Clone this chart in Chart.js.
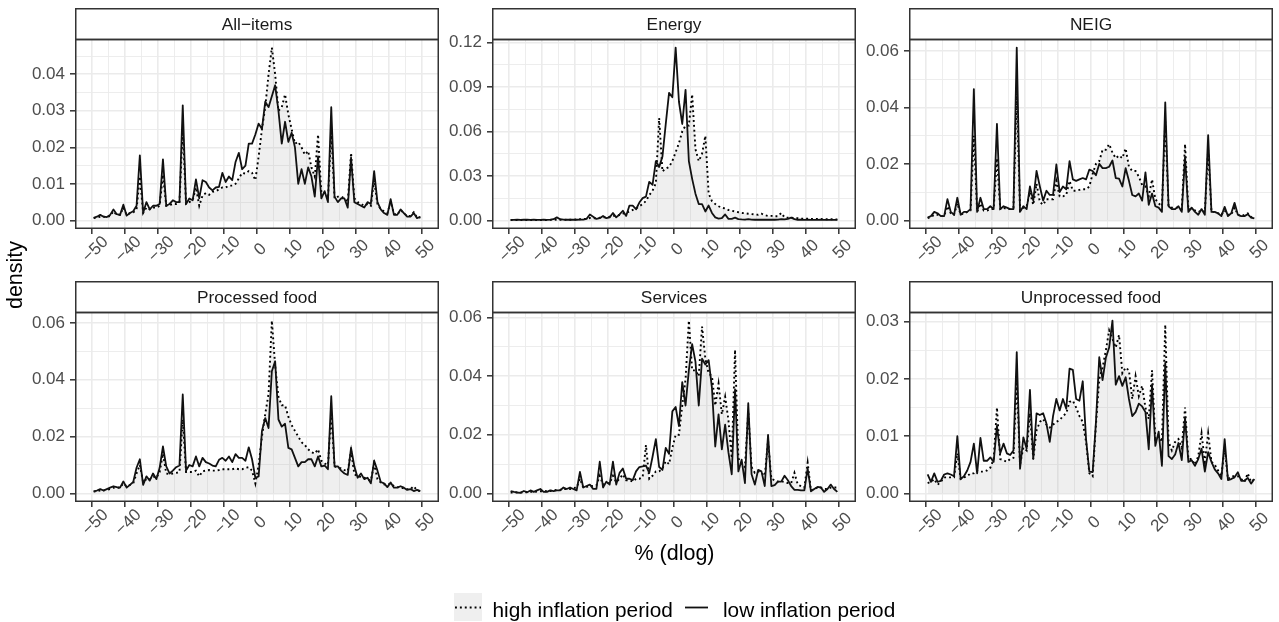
<!DOCTYPE html>
<html><head><meta charset="utf-8">
<script src="https://cdn.jsdelivr.net/npm/chart.js@4.4.1/dist/chart.umd.min.js"></script>
<style>
html,body{margin:0;padding:0;background:#fff;}
body{width:1279px;height:622px;overflow:hidden;position:relative;font-family:'Liberation Sans',Arial,sans-serif;}
canvas{position:absolute;}
svg{position:absolute;left:0;top:0;pointer-events:none;}
</style></head>
<body>
<script>
// ---------- DATA ----------
const xBins = [-49.5,-48.5,-47.5,-46.5,-45.5,-44.5,-43.5,-42.5,-41.5,-40.5,-39.5,-38.5,-37.5,-36.5,-35.5,-34.5,-33.5,-32.5,-31.5,-30.5,-29.5,-28.5,-27.5,-26.5,-25.5,-24.5,-23.5,-22.5,-21.5,-20.5,-19.5,-18.5,-17.5,-16.5,-15.5,-14.5,-13.5,-12.5,-11.5,-10.5,-9.5,-8.5,-7.5,-6.5,-5.5,-4.5,-3.5,-2.5,-1.5,-0.5,0.5,1.5,2.5,3.5,4.5,5.5,6.5,7.5,8.5,9.5,10.5,11.5,12.5,13.5,14.5,15.5,16.5,17.5,18.5,19.5,20.5,21.5,22.5,23.5,24.5,25.5,26.5,27.5,28.5,29.5,30.5,31.5,32.5,33.5,34.5,35.5,36.5,37.5,38.5,39.5,40.5,41.5,42.5,43.5,44.5,45.5,46.5,47.5,48.5,49.5];

const panelNames = ['All\u2212items','Energy','NEIG','Processed food','Services','Unprocessed food'];
const seriesNames = ['high inflation period','low inflation period'];
const xTickValues = [-50,-40,-30,-20,-10,0,10,20,30,40,50];
const xTickLabels = ['\u221250','\u221240','\u221230','\u221220','\u221210','0','10','20','30','40','50'];
const yTickSteps = [0.01,0.03,0.02,0.02,0.02,0.01];

const allItemsLow = [.0007,.001,.0015,.001,.0009,.0015,.003,.0017,.0015,.0043,.0013,.002,.0025,.004,.0178,.002,.005,.003,.004,.004,.0045,.0167,.004,.0045,.0055,.005,.005,.0315,.0045,.006,.0055,.0112,.006,.011,.0105,.009,.0082,.009,.0092,.013,.0105,.012,.011,.016,.0185,.014,.015,.021,.021,.0235,.0265,.025,.0325,.031,.034,.037,.03,.021,.027,.0215,.024,.02,.01,.014,.01,.0145,.012,.0065,.0175,.006,.008,.005,.031,.0065,.005,.006,.006,.0035,.0172,.005,.0045,.004,.0035,.005,.0045,.0135,.005,.003,.002,.0015,.0058,.0015,.0015,.003,.002,.001,.001,.002,.0006,.001];
const allItemsHigh = [.0006,.0008,.001,.001,.0009,.0012,.0025,.0015,.0015,.0035,.0015,.002,.0022,.003,.012,.002,.0035,.003,.0035,.0035,.004,.0125,.004,.0042,.0045,.0045,.0048,.025,.0045,.005,.0055,.009,.004,.0068,.0075,.007,.0078,.008,.0085,.009,.009,.0095,.0095,.01,.0115,.013,.0128,.0135,.013,.011,.0175,.025,.031,.04,.0473,.04,.03,.031,.0345,.029,.025,.021,.0215,.02,.018,.019,.0145,.012,.0235,.0075,.0075,.006,.024,.006,.0065,.0065,.006,.005,.0185,.006,.005,.0045,.004,.0045,.004,.011,.0045,.003,.0025,.002,.005,.0018,.0015,.0028,.002,.0012,.0012,.0022,.0008,.0008];

const energyLow = [.0003,.0003,.0004,.0003,.0004,.0004,.0003,.0004,.0003,.0003,.0004,.0003,.0005,.0008,.002,.0008,.0005,.0004,.0004,.0005,.0004,.0005,.0005,.001,.004,.0025,.001,.0015,.003,.0015,.002,.005,.002,.004,.0065,.003,.01,.01,.0075,.012,.015,.016,.026,.024,.04,.036,.043,.065,.086,.083,.1165,.08,.065,.088,.04,.028,.018,.011,.011,.006,.01,.005,.002,.0012,.0015,.004,.001,.001,.0018,.0008,.0006,.0005,.0008,.0005,.0004,.0005,.0004,.0004,.0005,.0004,.0004,.0005,.0008,.0006,.001,.0018,.0008,.0004,.0004,.0003,.0004,.0003,.0003,.0003,.0004,.0003,.0003,.0003,.0003,.0003];
const energyHigh = [.0002,.0002,.0002,.0002,.0002,.0002,.0002,.0002,.0002,.0002,.0002,.0002,.0003,.0003,.0006,.0003,.0003,.0004,.0004,.0005,.0006,.0008,.0009,.001,.0016,.0014,.0015,.0018,.002,.0022,.0025,.003,.0032,.0036,.0045,.005,.006,.007,.008,.0095,.011,.013,.017,.02,.025,.069,.033,.035,.036,.04,.046,.052,.06,.064,.064,.085,.048,.04,.045,.057,.018,.013,.011,.0095,.0085,.008,.007,.0065,.006,.0055,.005,.0048,.0045,.0042,.004,.0038,.0045,.0035,.003,.003,.0028,.0028,.005,.002,.0018,.0018,.0015,.0015,.0012,.0012,.0012,.001,.001,.001,.0009,.0008,.0008,.0008,.0007,.0007];

const neigLow = [.001,.0015,.003,.0025,.0015,.0015,.0075,.003,.002,.008,.002,.003,.003,.004,.0465,.003,.008,.004,.004,.005,.004,.0342,.004,.005,.0045,.004,.004,.0612,.003,.005,.004,.012,.007,.0175,.012,.007,.0105,.009,.009,.0198,.01,.012,.011,.021,.0145,.014,.0145,.015,.0145,.018,.0175,.016,.02,.0185,.0185,.019,.0212,.015,.0148,.012,.0185,.014,.009,.0085,.0095,.007,.017,.0055,.0095,.005,.0045,.003,.0418,.005,.004,.004,.005,.003,.0225,.003,.0045,.003,.002,.004,.002,.0302,.003,.003,.0025,.0015,.0048,.0015,.0025,.0062,.002,.0015,.0015,.0022,.001,.0007];
const neigHigh = [.0008,.0012,.002,.002,.0015,.0015,.005,.0025,.002,.006,.002,.0025,.003,.0035,.03,.003,.006,.0035,.0035,.004,.004,.022,.004,.0045,.004,.004,.0045,.045,.0035,.0045,.005,.01,.0055,.013,.0065,.0055,.0075,.0075,.0075,.014,.0085,.0085,.009,.014,.0105,.0105,.0108,.011,.011,.012,.0165,.02,.021,.025,.025,.027,.024,.022,.023,.022,.0255,.019,.0175,.0175,.0155,.0125,.012,.0085,.0145,.0075,.006,.005,.035,.005,.0045,.0045,.0045,.004,.027,.004,.004,.0035,.003,.0035,.003,.025,.003,.003,.0025,.002,.0035,.002,.002,.0045,.002,.0015,.002,.0025,.0012,.0008];

const processedLow = [.0007,.001,.0015,.001,.0015,.002,.0025,.0022,.002,.0042,.002,.003,.004,.009,.012,.003,.006,.0045,.007,.005,.009,.0165,.0095,.007,.008,.0092,.0098,.0348,.008,.01,.0095,.013,.0095,.0125,.011,.0105,.0098,.0095,.0118,.0125,.0115,.013,.011,.0138,.0125,.0125,.0115,.0162,.012,.0055,.006,.022,.0265,.023,.043,.0465,.026,.0235,.0245,.016,.0155,.0125,.0095,.011,.011,.012,.012,.0095,.013,.0095,.0098,.0085,.0342,.0095,.0095,.008,.007,.0065,.016,.0095,.0055,.007,.005,.0055,.0035,.0115,.008,.004,.0035,.0022,.0038,.002,.002,.0025,.002,.0012,.0015,.0008,.0012,.0008];
const processedHigh = [.0006,.0008,.001,.001,.0013,.0015,.002,.002,.002,.0035,.0025,.003,.0035,.007,.01,.004,.005,.005,.006,.0055,.0075,.014,.007,.0068,.007,.0072,.0075,.026,.0075,.0075,.0075,.008,.006,.0078,.008,.0082,.008,.008,.0082,.0085,.0085,.0085,.0085,.0088,.0085,.0085,.009,.0092,.008,.0035,.01,.02,.028,.035,.0608,.045,.034,.031,.031,.027,.024,.022,.02,.018,.017,.0155,.0145,.014,.0155,.0115,.0105,.01,.028,.0095,.009,.0088,.0082,.0078,.015,.0068,.006,.0058,.0055,.005,.0045,.0105,.005,.0038,.0032,.003,.0035,.0025,.0022,.002,.0018,.0015,.0015,.0025,.001,.0008];

const servicesLow = [.0008,.0005,.0003,.0002,.0008,.0004,.001,.0005,.001,.0015,.0005,.0005,.001,.0008,.001,.001,.002,.0015,.002,.0015,.001,.0073,.002,.0025,.003,.0015,.0015,.0108,.002,.004,.003,.0108,.003,.007,.0085,.005,.005,.0045,.0075,.009,.0092,.0095,.007,.0125,.0185,.009,.008,.0155,.0135,.028,.0295,.023,.038,.03,.042,.051,.045,.03,.046,.044,.0455,.036,.016,.027,.015,.0235,.014,.0065,.0355,.0075,.0115,.0035,.0308,.0065,.003,.008,.0075,.0025,.02,.0025,.0028,.004,.004,.006,.0045,.0025,.0012,.0012,.001,.001,.0085,.0007,.0015,.0022,.002,.0005,.0015,.003,.0015,.0005];
const servicesHigh = [.0003,.0003,.0003,.0003,.0003,.0004,.0005,.0005,.0006,.0007,.0007,.0008,.0008,.001,.0012,.0012,.0015,.0015,.0015,.0018,.002,.005,.002,.0022,.0025,.0025,.0028,.006,.003,.0035,.0035,.006,.0038,.005,.0065,.0045,.0045,.004,.005,.005,.0055,.0165,.005,.006,.0075,.0075,.0085,.011,.01,.0155,.02,.02,.03,.039,.059,.042,.042,.04,.057,.046,.041,.04,.03,.0375,.027,.033,.025,.012,.049,.012,.01,.009,.028,.009,.007,.0075,.007,.006,.018,.005,.0045,.004,.004,.004,.0035,.0035,.007,.003,.0025,.002,.0105,.001,.0015,.002,.002,.0015,.0015,.002,.002,.002];

const unprocessedLow = [.0033,.002,.0035,.002,.0022,.0033,.0035,.0033,.003,.01,.0025,.003,.004,.0055,.0087,.0035,.0097,.0057,.0057,.0063,.0055,.0118,.007,.0087,.007,.0067,.0075,.0247,.0043,.0098,.0078,.0181,.006,.014,.0137,.014,.0122,.009,.0135,.0165,.0145,.0165,.0148,.0218,.0216,.0165,.0162,.0196,.0095,.0038,.0037,.0125,.0238,.0198,.0237,.0255,.0302,.019,.0205,.0188,.0203,.0165,.0135,.0142,.0157,.0152,.0142,.0077,.019,.0083,.0108,.0048,.0228,.0065,.006,.0068,.0088,.0058,.0132,.0055,.0058,.0048,.006,.0078,.0038,.0072,.0055,.0042,.0035,.0025,.0095,.0023,.0025,.0028,.0037,.0022,.0022,.0027,.0017,.0025];
const unprocessedHigh = [.0018,.002,.0025,.0015,.002,.0028,.0028,.0028,.0028,.007,.0025,.0028,.003,.0035,.0035,.004,.0038,.0038,.004,.0045,.006,.015,.006,.0058,.0055,.006,.0062,.02,.005,.008,.0075,.014,.006,.011,.0125,.013,.012,.0115,.012,.0125,.0128,.0135,.014,.016,.0162,.015,.0135,.0125,.009,.0035,.003,.012,.02,.022,.025,.0285,.027,.0255,.0277,.021,.022,.0215,.0165,.0205,.017,.0188,.015,.013,.0215,.0095,.01,.009,.0295,.009,.0075,.009,.0095,.008,.015,.006,.006,.005,.0065,.0105,.0055,.0105,.0055,.005,.004,.003,.008,.0025,.003,.003,.003,.0025,.002,.0035,.002,.0025];

const highSeries = [allItemsHigh, energyHigh, neigHigh, processedHigh, servicesHigh, unprocessedHigh];
const lowSeries  = [allItemsLow, energyLow, neigLow, processedLow, servicesLow, unprocessedLow];

// ---------- STYLE / LAYOUT ----------
const FONT = "'Liberation Sans', Arial, sans-serif";
const TICK_FS = 17, STRIP_FS = 17.3;
const COL_LEFT = [75, 492, 909];
const ROW_TOP = [8, 281];
const PANEL_W = 364, STRIP_H = 31, PLOT_H = 190, YAX_W = 70, XAX_H = 50, PAD_R = 3;
const FILL = 'rgba(170,170,170,0.19)';
const GRID = '#ebebeb';

function isMult(v, step){ const r = v/step; return Math.abs(r - Math.round(r)) < 1e-6; }

const facetPlugin = {
  id: 'facet',
  afterDraw(chart, args, opts) {
    const {ctx, chartArea: a} = chart;
    const xs = chart.scales.x;
    ctx.save();
    // rotated x tick labels (centred below each tick)
    ctx.fillStyle = '#4d4d4d';
    ctx.font = TICK_FS + 'px ' + FONT;
    ctx.textAlign = 'center';
    ctx.textBaseline = 'middle';
    xTickValues.forEach((v, i) => {
      const px = xs.getPixelForValue(v);
      ctx.save();
      ctx.translate(px + 3.5, a.bottom + 20.5);
      ctx.rotate(-Math.PI / 4);
      ctx.fillText(xTickLabels[i], 0, 0);
      ctx.restore();
    });
    // strip
    ctx.fillStyle = '#ffffff';
    ctx.fillRect(a.left, 0, a.right - a.left, a.top);
    ctx.strokeStyle = '#333333';
    ctx.lineWidth = 1.5;
    const L = a.left + 0.75, R = a.right - 0.75, T = a.top + 0.5, B = a.bottom - 0.75;
    ctx.strokeRect(L, 0.75, R - L, T - 0.75);
    ctx.strokeRect(L, T, R - L, B - T);
    ctx.fillStyle = '#1a1a1a';
    ctx.font = STRIP_FS + 'px ' + FONT;
    ctx.textAlign = 'center';
    ctx.textBaseline = 'middle';
    ctx.fillText(opts.title, (a.left + a.right) / 2, a.top / 2 + 1.5);
    ctx.restore();
  }
};

panelNames.forEach((name, i) => {
  const col = i % 3, row = Math.floor(i / 3);
  const cv = document.createElement('canvas');
  const W = YAX_W + PANEL_W + PAD_R, H = STRIP_H + PLOT_H + XAX_H;
  cv.width = W; cv.height = H;
  cv.style.left = (COL_LEFT[col] - YAX_W) + 'px';
  cv.style.top = ROW_TOP[row] + 'px';
  cv.style.width = W + 'px'; cv.style.height = H + 'px';
  document.body.appendChild(cv);

  const hi = highSeries[i], lo = lowSeries[i];
  const M = Math.max(...hi, ...lo);
  const step = yTickSteps[i], half = step / 2;
  const yMin = -0.05 * M, yMax = 1.05 * M;

  new Chart(cv, {
    type: 'line',
    data: {
      datasets: [
        { label: seriesNames[1], data: xBins.map((x, k) => ({x, y: lo[k]})),
          borderColor: '#111111', borderWidth: 1.8, pointRadius: 0, fill: false,
          tension: 0, borderJoinStyle: 'round' },
        { label: seriesNames[0], data: xBins.map((x, k) => ({x, y: hi[k]})),
          borderColor: '#000000', borderWidth: 1.9, borderDash: [1.9, 3], borderCapStyle: 'butt',
          pointRadius: 0, fill: 'origin', backgroundColor: FILL, tension: 0 }
      ]
    },
    plugins: [facetPlugin],
    options: {
      responsive: false, animation: false, devicePixelRatio: 1,
      layout: { padding: { top: STRIP_H, right: PAD_R, left: 0, bottom: 0 } },
      plugins: { legend: { display: false }, tooltip: { enabled: false }, facet: { title: name } },
      scales: {
        x: {
          type: 'linear', min: -55.15, max: 55.15,
          afterFit(s) { s.height = XAX_H; },
          afterBuildTicks(s) { const t = []; for (let v = -55; v <= 55; v += 5) t.push({value: v}); s.ticks = t; },
          ticks: { display: false, autoSkip: false },
          border: { display: false },
          grid: {
            color: GRID,
            lineWidth: c => (c.tick && isMult(c.tick.value, 10)) ? 1.6 : 0.9,
            drawTicks: true, tickLength: 5, tickWidth: 1.5,
            tickColor: c => (c.tick && isMult(c.tick.value, 10)) ? '#333333' : 'rgba(0,0,0,0)'
          }
        },
        y: {
          type: 'linear', min: yMin, max: yMax,
          afterFit(s) { s.width = YAX_W; },
          afterBuildTicks(s) { const t = []; for (let k = 0; k * half <= yMax + 1e-12; k++) t.push({value: k * half}); s.ticks = t; },
          ticks: {
            autoSkip: false, padding: 5, color: '#4d4d4d',
            font: { family: FONT, size: TICK_FS },
            callback: v => isMult(v, step) ? v.toFixed(2) : ''
          },
          border: { display: false },
          grid: {
            color: GRID,
            lineWidth: c => (c.tick && isMult(c.tick.value, step)) ? 1.6 : 0.9,
            drawTicks: true, tickLength: 5, tickWidth: 1.5,
            tickColor: c => (c.tick && isMult(c.tick.value, step)) ? '#333333' : 'rgba(0,0,0,0)'
          }
        }
      }
    }
  });
});

// ---------- axis titles & legend ----------
const svgNS = 'http://www.w3.org/2000/svg';
const svg = document.createElementNS(svgNS, 'svg');
svg.setAttribute('width', 1279); svg.setAttribute('height', 622);
svg.innerHTML = `
<text transform="translate(22,275) rotate(-90)" text-anchor="middle" font-family="Liberation Sans, Arial, sans-serif" font-size="21.5" fill="#000">density</text>
<text x="674.5" y="560" text-anchor="middle" font-family="Liberation Sans, Arial, sans-serif" font-size="21.5" fill="#000">% (dlog)</text>
<rect x="454" y="593" width="28" height="28" fill="${FILL}"/>
<line x1="455" y1="607.5" x2="481" y2="607.5" stroke="#000" stroke-width="1.9" stroke-dasharray="1.9 3"/>
<line x1="685" y1="607.5" x2="708" y2="607.5" stroke="#111" stroke-width="1.8"/>
<text x="492.5" y="616.5" font-family="Liberation Sans, Arial, sans-serif" font-size="20.8" fill="#000">${seriesNames[0]}</text>
<text x="723" y="616.5" font-family="Liberation Sans, Arial, sans-serif" font-size="20.8" fill="#000">${seriesNames[1]}</text>`;
document.body.appendChild(svg);
</script>
</body></html>
